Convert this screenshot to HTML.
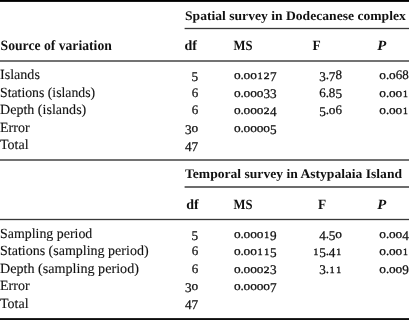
<!DOCTYPE html>
<html><head><meta charset="utf-8"><style>
html,body{margin:0;padding:0;background:#fff;width:409px;height:320px;overflow:hidden}
svg{display:block;will-change:transform}
text{text-rendering:geometricPrecision;font-family:"Liberation Serif", serif;fill:#111;stroke:#111;stroke-width:0.12px}
text[font-weight=bold]{stroke-width:0.0px}
</style></head><body>
<svg width="409" height="320" viewBox="0 0 409 320">
<rect x="0" y="0" width="409" height="1.9" fill="#000"/>
<rect x="184.6" y="27.85" width="224.4" height="1.3" fill="#383838"/>
<rect x="0" y="60.0" width="409" height="2.0" fill="#737373"/>
<rect x="0" y="159.0" width="409" height="2.0" fill="#727272"/>
<rect x="184.6" y="186.0" width="224.4" height="2.0" fill="#6c6c6c"/>
<rect x="0" y="218.85" width="409" height="1.3" fill="#383838"/>
<rect x="0" y="318.1" width="409" height="1.9" fill="#0e0e0e"/>
<text x="185" y="20.3" font-size="13.1" font-weight="bold" textLength="220.8" lengthAdjust="spacingAndGlyphs">Spatial survey in Dodecanese complex</text>
<text x="0.6" y="50" font-size="14.2" font-weight="bold" textLength="111.2" lengthAdjust="spacingAndGlyphs">Source of variation</text>
<text x="184.4" y="50" font-size="14" font-weight="bold">df</text>
<text x="233.6" y="50" font-size="14" font-weight="bold" textLength="19.0" lengthAdjust="spacingAndGlyphs">MS</text>
<text x="312.4" y="50" font-size="14" font-weight="bold" textLength="8.2" lengthAdjust="spacingAndGlyphs">F</text>
<text x="377.2" y="50" font-size="14" font-weight="bold" font-style="italic" textLength="9.0" lengthAdjust="spacingAndGlyphs">P</text>
<text x="0" y="79.2" font-size="14" textLength="39.9" lengthAdjust="spacingAndGlyphs">Islands</text>
<text transform="translate(194.90,81.00)" font-size="13.2" text-anchor="middle" style="stroke-width:0.25px">5</text>
<text transform="translate(237.30,79.20) scale(1.06,1)" font-size="12.6" text-anchor="middle" style="stroke-width:0.28px">o</text>
<text transform="translate(242.10,79.20)" font-size="13" text-anchor="middle" style="stroke-width:0.3px">.</text>
<text transform="translate(246.90,79.20) scale(1.06,1)" font-size="12.6" text-anchor="middle" style="stroke-width:0.28px">o</text>
<text transform="translate(253.50,79.20) scale(1.06,1)" font-size="12.6" text-anchor="middle" style="stroke-width:0.28px">o</text>
<text transform="translate(260.10,79.20) scale(1.0,1)" font-size="9.6" text-anchor="middle" style="stroke-width:0.4px">1</text>
<text transform="translate(266.70,79.20) scale(1.2,1)" font-size="9.6" text-anchor="middle" style="stroke-width:0.4px">2</text>
<text transform="translate(273.30,81.00)" font-size="13.2" text-anchor="middle" style="stroke-width:0.25px">7</text>
<text transform="translate(322.50,81.00)" font-size="13.2" text-anchor="middle" style="stroke-width:0.25px">3</text>
<text transform="translate(327.30,79.20)" font-size="13" text-anchor="middle" style="stroke-width:0.3px">.</text>
<text transform="translate(332.10,81.00)" font-size="13.2" text-anchor="middle" style="stroke-width:0.25px">7</text>
<text transform="translate(338.70,79.20)" font-size="13.0" text-anchor="middle" style="stroke-width:0.25px">8</text>
<text transform="translate(382.70,79.20) scale(1.06,1)" font-size="12.6" text-anchor="middle" style="stroke-width:0.28px">o</text>
<text transform="translate(387.50,79.20)" font-size="13" text-anchor="middle" style="stroke-width:0.3px">.</text>
<text transform="translate(392.30,79.20) scale(1.06,1)" font-size="12.6" text-anchor="middle" style="stroke-width:0.28px">o</text>
<text transform="translate(398.90,79.20)" font-size="13.0" text-anchor="middle" style="stroke-width:0.25px">6</text>
<text transform="translate(405.50,79.20)" font-size="13.0" text-anchor="middle" style="stroke-width:0.25px">8</text>
<text x="0" y="96.6" font-size="14" textLength="95.1" lengthAdjust="spacingAndGlyphs">Stations (islands)</text>
<text transform="translate(194.90,96.60)" font-size="13.0" text-anchor="middle" style="stroke-width:0.25px">6</text>
<text transform="translate(237.30,96.60) scale(1.06,1)" font-size="12.6" text-anchor="middle" style="stroke-width:0.28px">o</text>
<text transform="translate(242.10,96.60)" font-size="13" text-anchor="middle" style="stroke-width:0.3px">.</text>
<text transform="translate(246.90,96.60) scale(1.06,1)" font-size="12.6" text-anchor="middle" style="stroke-width:0.28px">o</text>
<text transform="translate(253.50,96.60) scale(1.06,1)" font-size="12.6" text-anchor="middle" style="stroke-width:0.28px">o</text>
<text transform="translate(260.10,96.60) scale(1.06,1)" font-size="12.6" text-anchor="middle" style="stroke-width:0.28px">o</text>
<text transform="translate(266.70,98.40)" font-size="13.2" text-anchor="middle" style="stroke-width:0.25px">3</text>
<text transform="translate(273.30,98.40)" font-size="13.2" text-anchor="middle" style="stroke-width:0.25px">3</text>
<text transform="translate(322.50,96.60)" font-size="13.0" text-anchor="middle" style="stroke-width:0.25px">6</text>
<text transform="translate(327.30,96.60)" font-size="13" text-anchor="middle" style="stroke-width:0.3px">.</text>
<text transform="translate(332.10,96.60)" font-size="13.0" text-anchor="middle" style="stroke-width:0.25px">8</text>
<text transform="translate(338.70,98.40)" font-size="13.2" text-anchor="middle" style="stroke-width:0.25px">5</text>
<text transform="translate(382.70,96.60) scale(1.06,1)" font-size="12.6" text-anchor="middle" style="stroke-width:0.28px">o</text>
<text transform="translate(387.50,96.60)" font-size="13" text-anchor="middle" style="stroke-width:0.3px">.</text>
<text transform="translate(392.30,96.60) scale(1.06,1)" font-size="12.6" text-anchor="middle" style="stroke-width:0.28px">o</text>
<text transform="translate(398.90,96.60) scale(1.06,1)" font-size="12.6" text-anchor="middle" style="stroke-width:0.28px">o</text>
<text transform="translate(405.50,96.60) scale(1.0,1)" font-size="9.6" text-anchor="middle" style="stroke-width:0.4px">1</text>
<text x="0" y="114.0" font-size="14" textLength="86.3" lengthAdjust="spacingAndGlyphs">Depth (islands)</text>
<text transform="translate(194.90,114.00)" font-size="13.0" text-anchor="middle" style="stroke-width:0.25px">6</text>
<text transform="translate(237.30,114.00) scale(1.06,1)" font-size="12.6" text-anchor="middle" style="stroke-width:0.28px">o</text>
<text transform="translate(242.10,114.00)" font-size="13" text-anchor="middle" style="stroke-width:0.3px">.</text>
<text transform="translate(246.90,114.00) scale(1.06,1)" font-size="12.6" text-anchor="middle" style="stroke-width:0.28px">o</text>
<text transform="translate(253.50,114.00) scale(1.06,1)" font-size="12.6" text-anchor="middle" style="stroke-width:0.28px">o</text>
<text transform="translate(260.10,114.00) scale(1.06,1)" font-size="12.6" text-anchor="middle" style="stroke-width:0.28px">o</text>
<text transform="translate(266.70,114.00) scale(1.2,1)" font-size="9.6" text-anchor="middle" style="stroke-width:0.4px">2</text>
<text transform="translate(273.30,115.80)" font-size="13.2" text-anchor="middle" style="stroke-width:0.25px">4</text>
<text transform="translate(322.50,115.80)" font-size="13.2" text-anchor="middle" style="stroke-width:0.25px">5</text>
<text transform="translate(327.30,114.00)" font-size="13" text-anchor="middle" style="stroke-width:0.3px">.</text>
<text transform="translate(332.10,114.00) scale(1.06,1)" font-size="12.6" text-anchor="middle" style="stroke-width:0.28px">o</text>
<text transform="translate(338.70,114.00)" font-size="13.0" text-anchor="middle" style="stroke-width:0.25px">6</text>
<text transform="translate(382.70,114.00) scale(1.06,1)" font-size="12.6" text-anchor="middle" style="stroke-width:0.28px">o</text>
<text transform="translate(387.50,114.00)" font-size="13" text-anchor="middle" style="stroke-width:0.3px">.</text>
<text transform="translate(392.30,114.00) scale(1.06,1)" font-size="12.6" text-anchor="middle" style="stroke-width:0.28px">o</text>
<text transform="translate(398.90,114.00) scale(1.06,1)" font-size="12.6" text-anchor="middle" style="stroke-width:0.28px">o</text>
<text transform="translate(405.50,114.00) scale(1.0,1)" font-size="9.6" text-anchor="middle" style="stroke-width:0.4px">1</text>
<text x="0" y="131.7" font-size="14">Error</text>
<text transform="translate(188.30,133.50)" font-size="13.2" text-anchor="middle" style="stroke-width:0.25px">3</text>
<text transform="translate(194.90,131.70) scale(1.06,1)" font-size="12.6" text-anchor="middle" style="stroke-width:0.28px">o</text>
<text transform="translate(237.30,131.70) scale(1.06,1)" font-size="12.6" text-anchor="middle" style="stroke-width:0.28px">o</text>
<text transform="translate(242.10,131.70)" font-size="13" text-anchor="middle" style="stroke-width:0.3px">.</text>
<text transform="translate(246.90,131.70) scale(1.06,1)" font-size="12.6" text-anchor="middle" style="stroke-width:0.28px">o</text>
<text transform="translate(253.50,131.70) scale(1.06,1)" font-size="12.6" text-anchor="middle" style="stroke-width:0.28px">o</text>
<text transform="translate(260.10,131.70) scale(1.06,1)" font-size="12.6" text-anchor="middle" style="stroke-width:0.28px">o</text>
<text transform="translate(266.70,131.70) scale(1.06,1)" font-size="12.6" text-anchor="middle" style="stroke-width:0.28px">o</text>
<text transform="translate(273.30,133.50)" font-size="13.2" text-anchor="middle" style="stroke-width:0.25px">5</text>
<text x="0" y="148.8" font-size="14">Total</text>
<text transform="translate(188.30,150.60)" font-size="13.2" text-anchor="middle" style="stroke-width:0.25px">4</text>
<text transform="translate(194.90,150.60)" font-size="13.2" text-anchor="middle" style="stroke-width:0.25px">7</text>
<text x="185" y="178.3" font-size="13.1" font-weight="bold" textLength="217.0" lengthAdjust="spacingAndGlyphs">Temporal survey in Astypalaia Island</text>
<text x="186.2" y="208.9" font-size="14" font-weight="bold">df</text>
<text x="233.6" y="208.9" font-size="14" font-weight="bold" textLength="19.0" lengthAdjust="spacingAndGlyphs">MS</text>
<text x="318.0" y="208.9" font-size="14" font-weight="bold" textLength="8.2" lengthAdjust="spacingAndGlyphs">F</text>
<text x="377.2" y="208.9" font-size="14" font-weight="bold" font-style="italic" textLength="9.0" lengthAdjust="spacingAndGlyphs">P</text>
<text x="0" y="237.9" font-size="14" textLength="92.3" lengthAdjust="spacingAndGlyphs">Sampling period</text>
<text transform="translate(194.90,239.70)" font-size="13.2" text-anchor="middle" style="stroke-width:0.25px">5</text>
<text transform="translate(237.30,237.90) scale(1.06,1)" font-size="12.6" text-anchor="middle" style="stroke-width:0.28px">o</text>
<text transform="translate(242.10,237.90)" font-size="13" text-anchor="middle" style="stroke-width:0.3px">.</text>
<text transform="translate(246.90,237.90) scale(1.06,1)" font-size="12.6" text-anchor="middle" style="stroke-width:0.28px">o</text>
<text transform="translate(253.50,237.90) scale(1.06,1)" font-size="12.6" text-anchor="middle" style="stroke-width:0.28px">o</text>
<text transform="translate(260.10,237.90) scale(1.06,1)" font-size="12.6" text-anchor="middle" style="stroke-width:0.28px">o</text>
<text transform="translate(266.70,237.90) scale(1.0,1)" font-size="9.6" text-anchor="middle" style="stroke-width:0.4px">1</text>
<text transform="translate(273.30,239.70)" font-size="13.2" text-anchor="middle" style="stroke-width:0.25px">9</text>
<text transform="translate(322.50,239.70)" font-size="13.2" text-anchor="middle" style="stroke-width:0.25px">4</text>
<text transform="translate(327.30,237.90)" font-size="13" text-anchor="middle" style="stroke-width:0.3px">.</text>
<text transform="translate(332.10,239.70)" font-size="13.2" text-anchor="middle" style="stroke-width:0.25px">5</text>
<text transform="translate(338.70,237.90) scale(1.06,1)" font-size="12.6" text-anchor="middle" style="stroke-width:0.28px">o</text>
<text transform="translate(382.70,237.90) scale(1.06,1)" font-size="12.6" text-anchor="middle" style="stroke-width:0.28px">o</text>
<text transform="translate(387.50,237.90)" font-size="13" text-anchor="middle" style="stroke-width:0.3px">.</text>
<text transform="translate(392.30,237.90) scale(1.06,1)" font-size="12.6" text-anchor="middle" style="stroke-width:0.28px">o</text>
<text transform="translate(398.90,237.90) scale(1.06,1)" font-size="12.6" text-anchor="middle" style="stroke-width:0.28px">o</text>
<text transform="translate(405.50,239.70)" font-size="13.2" text-anchor="middle" style="stroke-width:0.25px">4</text>
<text x="0" y="255.1" font-size="14">Stations (sampling period)</text>
<text transform="translate(194.90,255.10)" font-size="13.0" text-anchor="middle" style="stroke-width:0.25px">6</text>
<text transform="translate(237.30,255.10) scale(1.06,1)" font-size="12.6" text-anchor="middle" style="stroke-width:0.28px">o</text>
<text transform="translate(242.10,255.10)" font-size="13" text-anchor="middle" style="stroke-width:0.3px">.</text>
<text transform="translate(246.90,255.10) scale(1.06,1)" font-size="12.6" text-anchor="middle" style="stroke-width:0.28px">o</text>
<text transform="translate(253.50,255.10) scale(1.06,1)" font-size="12.6" text-anchor="middle" style="stroke-width:0.28px">o</text>
<text transform="translate(260.10,255.10) scale(1.0,1)" font-size="9.6" text-anchor="middle" style="stroke-width:0.4px">1</text>
<text transform="translate(266.70,255.10) scale(1.0,1)" font-size="9.6" text-anchor="middle" style="stroke-width:0.4px">1</text>
<text transform="translate(273.30,256.90)" font-size="13.2" text-anchor="middle" style="stroke-width:0.25px">5</text>
<text transform="translate(315.90,255.10) scale(1.0,1)" font-size="9.6" text-anchor="middle" style="stroke-width:0.4px">1</text>
<text transform="translate(322.50,256.90)" font-size="13.2" text-anchor="middle" style="stroke-width:0.25px">5</text>
<text transform="translate(327.30,255.10)" font-size="13" text-anchor="middle" style="stroke-width:0.3px">.</text>
<text transform="translate(332.10,256.90)" font-size="13.2" text-anchor="middle" style="stroke-width:0.25px">4</text>
<text transform="translate(338.70,255.10) scale(1.0,1)" font-size="9.6" text-anchor="middle" style="stroke-width:0.4px">1</text>
<text transform="translate(382.70,255.10) scale(1.06,1)" font-size="12.6" text-anchor="middle" style="stroke-width:0.28px">o</text>
<text transform="translate(387.50,255.10)" font-size="13" text-anchor="middle" style="stroke-width:0.3px">.</text>
<text transform="translate(392.30,255.10) scale(1.06,1)" font-size="12.6" text-anchor="middle" style="stroke-width:0.28px">o</text>
<text transform="translate(398.90,255.10) scale(1.06,1)" font-size="12.6" text-anchor="middle" style="stroke-width:0.28px">o</text>
<text transform="translate(405.50,255.10) scale(1.0,1)" font-size="9.6" text-anchor="middle" style="stroke-width:0.4px">1</text>
<text x="0" y="272.6" font-size="14" textLength="138.9" lengthAdjust="spacingAndGlyphs">Depth (sampling period)</text>
<text transform="translate(194.90,272.60)" font-size="13.0" text-anchor="middle" style="stroke-width:0.25px">6</text>
<text transform="translate(237.30,272.60) scale(1.06,1)" font-size="12.6" text-anchor="middle" style="stroke-width:0.28px">o</text>
<text transform="translate(242.10,272.60)" font-size="13" text-anchor="middle" style="stroke-width:0.3px">.</text>
<text transform="translate(246.90,272.60) scale(1.06,1)" font-size="12.6" text-anchor="middle" style="stroke-width:0.28px">o</text>
<text transform="translate(253.50,272.60) scale(1.06,1)" font-size="12.6" text-anchor="middle" style="stroke-width:0.28px">o</text>
<text transform="translate(260.10,272.60) scale(1.06,1)" font-size="12.6" text-anchor="middle" style="stroke-width:0.28px">o</text>
<text transform="translate(266.70,272.60) scale(1.2,1)" font-size="9.6" text-anchor="middle" style="stroke-width:0.4px">2</text>
<text transform="translate(273.30,274.40)" font-size="13.2" text-anchor="middle" style="stroke-width:0.25px">3</text>
<text transform="translate(322.50,274.40)" font-size="13.2" text-anchor="middle" style="stroke-width:0.25px">3</text>
<text transform="translate(327.30,272.60)" font-size="13" text-anchor="middle" style="stroke-width:0.3px">.</text>
<text transform="translate(332.10,272.60) scale(1.0,1)" font-size="9.6" text-anchor="middle" style="stroke-width:0.4px">1</text>
<text transform="translate(338.70,272.60) scale(1.0,1)" font-size="9.6" text-anchor="middle" style="stroke-width:0.4px">1</text>
<text transform="translate(382.70,272.60) scale(1.06,1)" font-size="12.6" text-anchor="middle" style="stroke-width:0.28px">o</text>
<text transform="translate(387.50,272.60)" font-size="13" text-anchor="middle" style="stroke-width:0.3px">.</text>
<text transform="translate(392.30,272.60) scale(1.06,1)" font-size="12.6" text-anchor="middle" style="stroke-width:0.28px">o</text>
<text transform="translate(398.90,272.60) scale(1.06,1)" font-size="12.6" text-anchor="middle" style="stroke-width:0.28px">o</text>
<text transform="translate(405.50,274.40)" font-size="13.2" text-anchor="middle" style="stroke-width:0.25px">9</text>
<text x="0" y="290.4" font-size="14">Error</text>
<text transform="translate(188.30,292.20)" font-size="13.2" text-anchor="middle" style="stroke-width:0.25px">3</text>
<text transform="translate(194.90,290.40) scale(1.06,1)" font-size="12.6" text-anchor="middle" style="stroke-width:0.28px">o</text>
<text transform="translate(237.30,290.40) scale(1.06,1)" font-size="12.6" text-anchor="middle" style="stroke-width:0.28px">o</text>
<text transform="translate(242.10,290.40)" font-size="13" text-anchor="middle" style="stroke-width:0.3px">.</text>
<text transform="translate(246.90,290.40) scale(1.06,1)" font-size="12.6" text-anchor="middle" style="stroke-width:0.28px">o</text>
<text transform="translate(253.50,290.40) scale(1.06,1)" font-size="12.6" text-anchor="middle" style="stroke-width:0.28px">o</text>
<text transform="translate(260.10,290.40) scale(1.06,1)" font-size="12.6" text-anchor="middle" style="stroke-width:0.28px">o</text>
<text transform="translate(266.70,290.40) scale(1.06,1)" font-size="12.6" text-anchor="middle" style="stroke-width:0.28px">o</text>
<text transform="translate(273.30,292.20)" font-size="13.2" text-anchor="middle" style="stroke-width:0.25px">7</text>
<text x="0" y="307.6" font-size="14">Total</text>
<text transform="translate(188.30,309.40)" font-size="13.2" text-anchor="middle" style="stroke-width:0.25px">4</text>
<text transform="translate(194.90,309.40)" font-size="13.2" text-anchor="middle" style="stroke-width:0.25px">7</text>
</svg>
</body></html>
